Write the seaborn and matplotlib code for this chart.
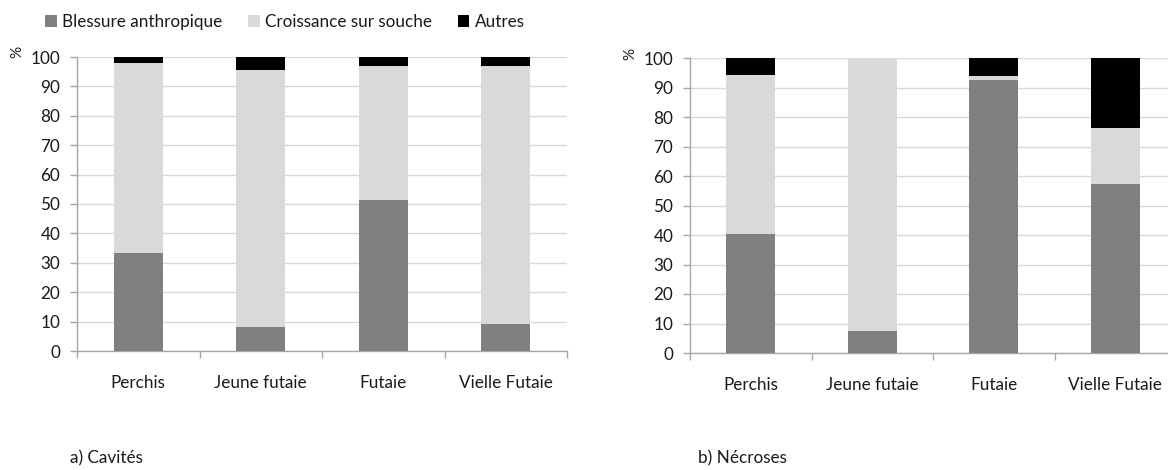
import matplotlib
matplotlib.use("Agg")
import matplotlib.pyplot as plt
from matplotlib.patches import Patch
import seaborn as sns
import pandas as pd
import numpy as np

categories = ["Perchis", "Jeune futaie", "Futaie", "Vielle Futaie"]
series_names = ["Blessure anthropique", "Croissance sur souche", "Autres"]

cavites_blessure = [33.5, 8.2, 51.3, 9.1]
cavites_croissance = [64.6, 87.4, 45.5, 87.7]
cavites_autres = [1.9, 4.4, 3.2, 3.2]

necroses_blessure = [40.2, 7.6, 92.4, 57.3]
necroses_croissance = [54.0, 92.4, 1.4, 19.0]
necroses_autres = [5.8, 0.0, 6.2, 23.7]

y_ticks = [0, 10, 20, 30, 40, 50, 60, 70, 80, 90, 100]
captions = ["a) Cavités", "b) Nécroses"]

colors = ["#808080", "#d9d9d9", "#000000"]
FS = 12.3

sns.set_theme(style="white")
plt.rcParams["font.family"] = ["Lato", "DejaVu Sans"]

fig = plt.figure(figsize=(11.68, 4.70), dpi=100)
ax1 = fig.add_axes([77 / 1168, 1 - 351 / 470, 490 / 1168, 294 / 470])
ax2 = fig.add_axes([690 / 1168, 1 - 353 / 470, 486 / 1168, 295 / 470])

def draw(ax, b, c, a):
    df = pd.DataFrame({"cat": categories, "b": b, "c": c, "a": a})
    df["bc"] = df["b"] + df["c"]
    df["abc"] = df["bc"] + df["a"]
    for col, colr in zip(["abc", "bc", "b"], colors[::-1]):
        sns.barplot(data=df, x="cat", y=col, order=categories, color=colr,
                    width=0.4, errorbar=None, ax=ax, saturation=1,
                    linewidth=0, zorder=3)
    ax.set_xlim(-0.5, 3.5)
    ax.set_ylim(0, 100)
    ax.set_yticks(y_ticks)
    ax.set_xlabel("")
    ax.set_ylabel("")
    ax.yaxis.grid(True, color="#d9d9d9", linewidth=1, zorder=0)
    ax.xaxis.grid(False)
    ax.set_axisbelow(True)
    for s in ["top", "right"]:
        ax.spines[s].set_visible(False)
    for s in ["left", "bottom"]:
        ax.spines[s].set_color("#a6a6a6")
        ax.spines[s].set_linewidth(1)
    ax.set_xticks(np.arange(4))
    ax.set_xticklabels(categories)
    ax.set_xticks(np.arange(-0.5, 4.0, 1.0), minor=True)
    ax.tick_params(axis="x", which="major", length=0, pad=17, labelsize=FS,
                   colors="#1a1a1a")
    ax.tick_params(axis="x", which="minor", length=5, width=1, color="#a6a6a6",
                   direction="out", bottom=True)
    ax.tick_params(axis="y", which="major", length=5, width=1, color="#a6a6a6",
                   direction="out", left=True, labelsize=FS, labelcolor="#1a1a1a",
                   pad=7)

draw(ax1, cavites_blessure, cavites_croissance, cavites_autres)
draw(ax2, necroses_blessure, necroses_croissance, necroses_autres)

fig.text(17 / 1168, 1 - 52 / 470, "%", rotation=90, ha="center", va="center",
         fontsize=11, color="#1a1a1a")
fig.text(630 / 1168, 1 - 54 / 470, "%", rotation=90, ha="center", va="center",
         fontsize=11, color="#1a1a1a")

fig.text(70 / 1168, 1 - 458 / 470, captions[0], ha="left", va="center",
         fontsize=FS, color="#1a1a1a")
fig.text(698 / 1168, 1 - 458 / 470, captions[1], ha="left", va="center",
         fontsize=FS, color="#1a1a1a")

handles = [Patch(facecolor=c, edgecolor="none") for c in colors]
fig.legend(handles, series_names, loc="center left", ncol=3,
           bbox_to_anchor=(38 / 1168, 1 - 22 / 470), frameon=False,
           fontsize=FS, handlelength=0.7, handleheight=0.7,
           handletextpad=0.3, columnspacing=1.5, borderaxespad=0,
           labelcolor="#1a1a1a")

fig.savefig("out.png", dpi=100)
